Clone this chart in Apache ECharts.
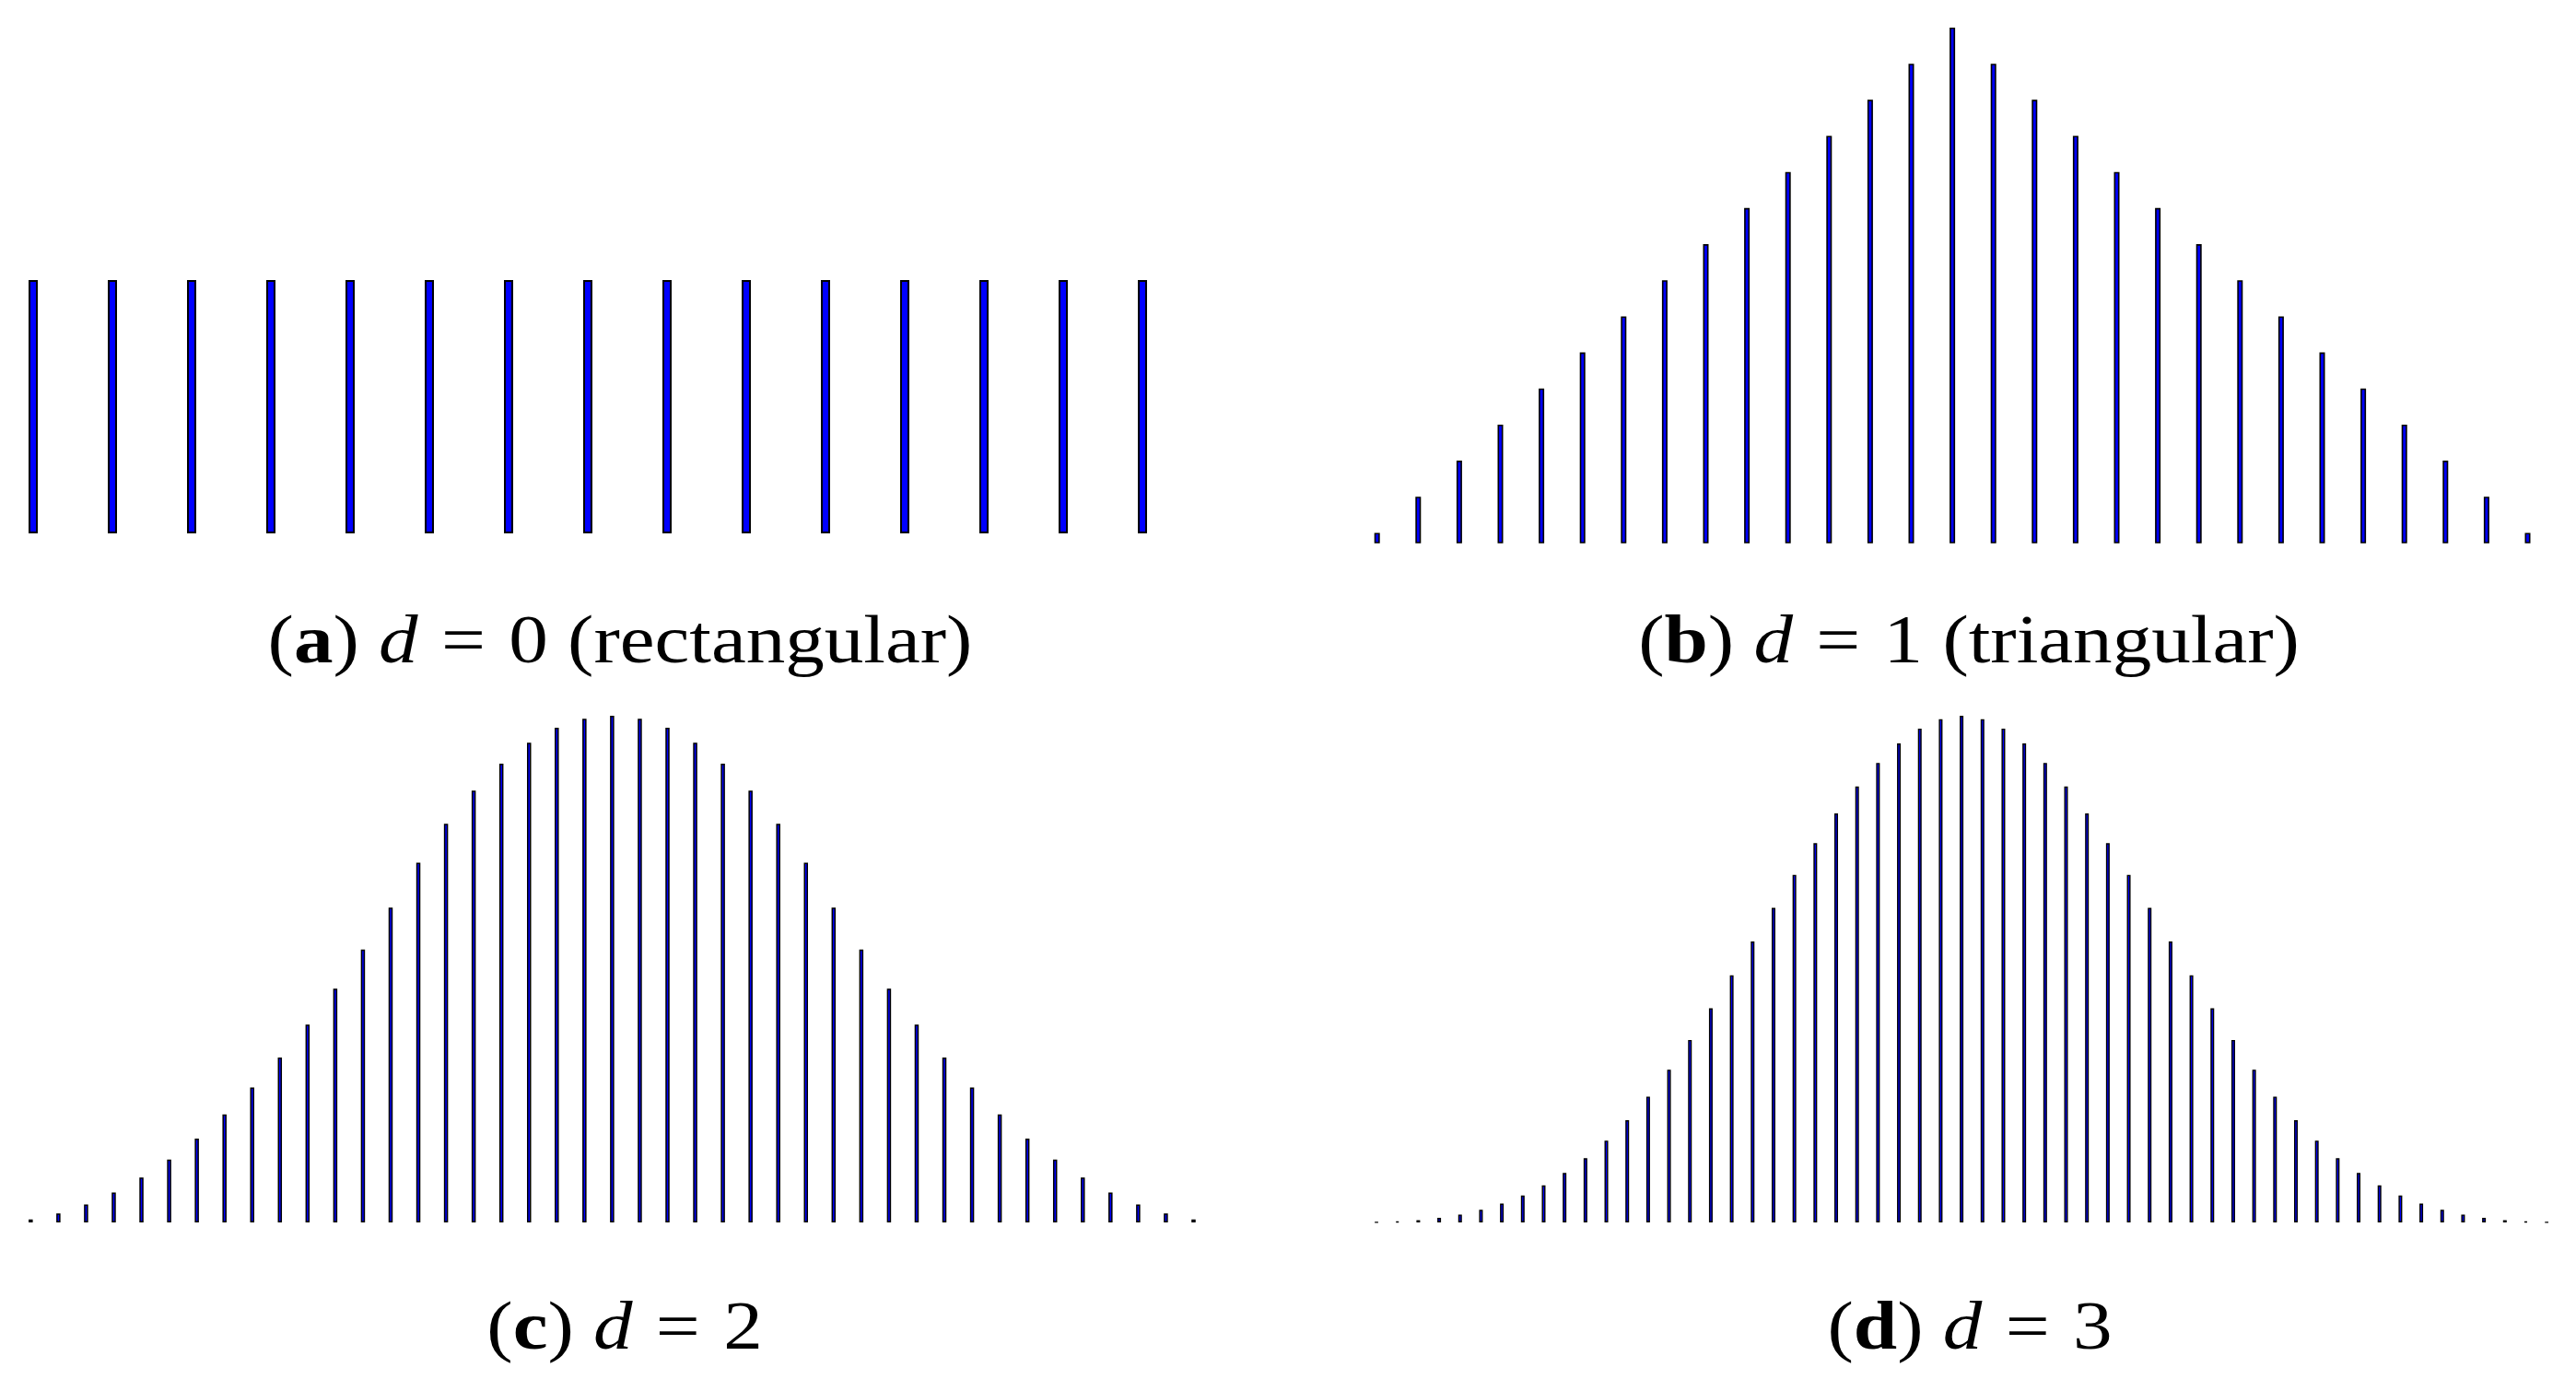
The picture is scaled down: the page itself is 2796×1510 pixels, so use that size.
<!DOCTYPE html>
<html>
<head>
<meta charset="utf-8">
<title>Repeated box filter kernels</title>
<script src="https://cdn.jsdelivr.net/npm/echarts@6/dist/echarts.min.js"></script>
<style>
  html, body { margin: 0; padding: 0; background: #fff; }
  #chart { width: 2796px; height: 1510px; }
</style>
</head>
<body>
<div id="chart"></div>
<script>
// Box kernel of 15 taps convolved with itself d times (d = 0..3).
const rectVals = [1, 1, 1, 1, 1, 1, 1, 1, 1, 1, 1, 1, 1, 1, 1];
const triVals = [1, 2, 3, 4, 5, 6, 7, 8, 9, 10, 11, 12, 13, 14, 15,
  14, 13, 12, 11, 10, 9, 8, 7, 6, 5, 4, 3, 2, 1];
const quadVals = [1, 3, 6, 10, 15, 21, 28, 36, 45, 55, 66, 78, 91, 105, 120,
  133, 144, 153, 160, 165, 168, 169, 168, 165, 160, 153, 144, 133,
  120, 105, 91, 78, 66, 55, 45, 36, 28, 21, 15, 10, 6, 3, 1];
const cubicVals = [1, 4, 10, 20, 35, 56, 84, 120, 165, 220, 286, 364, 455, 560, 680,
  812, 953, 1100, 1250, 1400, 1547, 1688, 1820, 1940, 2045, 2132, 2198, 2240,
  2255,
  2240, 2198, 2132, 2045, 1940, 1820, 1688, 1547, 1400, 1250, 1100, 953, 812,
  680, 560, 455, 364, 286, 220, 165, 120, 84, 56, 35, 20, 10, 4, 1];

const panelTags = ['a', 'b', 'c', 'd'];
const panelDegrees = ['0', '1', '2', '3'];
const panelNotes = ['rectangular', 'triangular', '', ''];

const FONT = "'Liberation Serif', 'Times New Roman', serif";
const FS = 74;
const FILL = '#0000ff';
const EDGE = '#000000';

// layout per panel: grid box, y range, bar look.
// (a) puts its first/last bar on the grid edges (no boundary gap), the rest
// use half-slot gaps so the raised baseline of (b) can be clipped.
const PANELS = [
  { vals: rectVals,  gap: false, left: 36,     width: 1204,   top: 304, height: 275, ymin: 0,    ymax: 1,    bw: 10,  bd: 2 },
  { vals: triVals,   gap: true,  left: 1472.4, width: 1293.4, top: 30,  height: 559, ymin: 0.73, ymax: 15,   bw: 6,   bd: 1.6 },
  { vals: quadVals,  gap: true,  left: 18.3,   width: 1292.2, top: 777, height: 550, ymin: 0,    ymax: 169,  bw: 4.5, bd: 1.5 },
  { vals: cubicVals, gap: true,  left: 1482.7, width: 1292.8, top: 777, height: 550, ymin: 0,    ymax: 2255, bw: 4,   bd: 1.4 },
];
const CAPTION_POS = [[673, 700], [2137, 700], [678, 1445], [2138, 1445]];
const CAPTION_STRETCH = 1.15; // Computer Modern runs wider than Times

const chart = echarts.init(document.getElementById('chart'), null, { renderer: 'canvas' });

const grid = PANELS.map((p) => ({ left: p.left, top: p.top, width: p.width, height: p.height }));
const xAxis = PANELS.map((p, i) => ({
  type: 'category', gridIndex: i, show: false, boundaryGap: p.gap,
  data: p.vals.map((_, k) => String(k)),
}));
const yAxis = PANELS.map((p, i) => ({
  type: 'value', gridIndex: i, show: false, min: p.ymin, max: p.ymax,
}));
const series = PANELS.map((p, i) => ({
  type: 'bar', xAxisIndex: i, yAxisIndex: i,
  data: p.vals, barWidth: p.bw, clip: p.gap, silent: true,
  itemStyle: { color: FILL, borderColor: EDGE, borderWidth: p.bd },
  animation: false,
}));

const rich = {
  n: { fontFamily: FONT, fontSize: FS, color: '#000' },
  b: { fontFamily: FONT, fontSize: FS, fontWeight: 'bold', color: '#000' },
  i: { fontFamily: FONT, fontSize: FS, fontStyle: 'italic', color: '#000' },
  s: { fontFamily: FONT, fontSize: FS, width: 22 },
};
const graphic = panelTags.map((tag, k) => {
  let txt = `{n|(}{b|${tag}}{n|)} {i|d}{s| }{n|=}{s| }{n|${panelDegrees[k]}}`;
  if (panelNotes[k]) txt += `{n| (${panelNotes[k]})}`;
  return {
    type: 'text', x: CAPTION_POS[k][0], y: CAPTION_POS[k][1], silent: true,
    scaleX: CAPTION_STRETCH,
    style: {
      text: txt, rich, fontFamily: FONT, fontSize: FS, fill: '#000',
      align: 'center', verticalAlign: 'middle',
      textAlign: 'center', textVerticalAlign: 'middle',
    },
  };
});

chart.setOption({
  backgroundColor: '#ffffff',
  animation: false,
  grid, xAxis, yAxis, series, graphic,
});
</script>
</body>
</html>
